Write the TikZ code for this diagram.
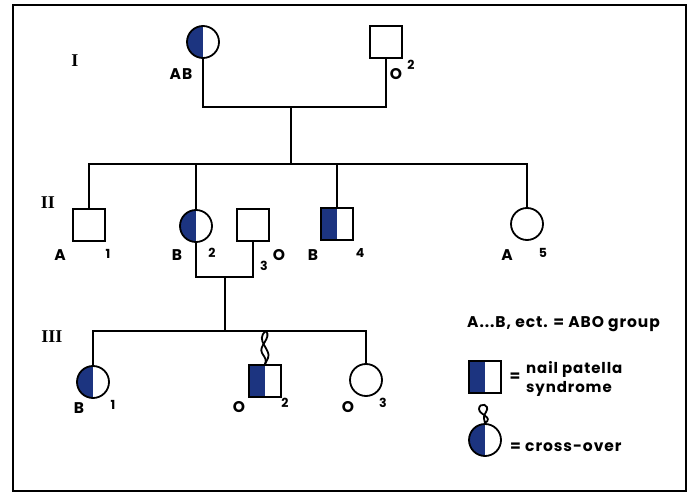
\documentclass[tikz,border=0pt]{standalone}
\usepackage{fontspec}
\setsansfont{Poppins}[LetterSpace=6]
\newfontfamily\numfont{Liberation Serif}
\usetikzlibrary{positioning}
\definecolor{npblue}{RGB}{28,52,128}
\tikzstyle{female}=[circle,draw=black,line width=1.8pt,minimum size=32pt,inner sep=0pt]
\tikzstyle{male}=[rectangle,draw=black,line width=1.8pt,minimum size=32pt,inner sep=0pt]
\tikzstyle{halffill}=[path picture={\fill[npblue] (path picture bounding box.south west) rectangle (path picture bounding box.north);}]
\tikzstyle{gtext}=[font=\sffamily\bfseries\fontsize{15.5}{15.5}\selectfont,inner sep=0pt]
\tikzstyle{ntext}=[font=\sffamily\bfseries\fontsize{12.5}{12.5}\selectfont,inner sep=0pt]
\tikzstyle{gen}=[font=\numfont\bfseries\fontsize{18}{18}\selectfont,inner sep=0pt]
\tikzstyle{line}=[line width=1.8pt]

\begin{document}
\begin{tikzpicture}[x=1pt,y=-1pt]
	\useasboundingbox (0,0) rectangle (695,494);
	\draw[line width=2.6pt] (13,5) rectangle (686,491);

	% generation I
	\node [gen] (g1) at (75,61) {I};
	\node [female,halffill] (i1) at (203,42) {};
	\node [male] (i2) at (386,42) {};
	\node [gtext] (i1g) at (181,74) {AB};
	\node [gtext] (i2g) at (396,74) {O};
	\node [ntext] (i2n) at (411,65) {2};
	\coordinate (m1) at (291,107);
	\draw[line] (i1.south) |- (m1) -| (i2.south);
	\coordinate (s2) at (291,164);
	\draw[line] (m1) -- (s2);

	% generation II
	\node [gen] (g2) at (48,203) {II};
	\node [male] (ii1) at (89,225) {};
	\node [female,halffill] (ii2) at (196,226) {};
	\node [male] (ii3) at (253,225) {};
	\node [male,halffill] (ii4) at (337,224) {};
	\node [female] (ii5) at (527,224) {};
	\draw[line] (ii1.north) |- (s2) -| (ii5.north);
	\draw[line] (ii2.north) -- (ii2.north |- s2);
	\draw[line] (ii4.north) -- (ii4.north |- s2);
	\node [gtext] (ii1g) at (60,255) {A};
	\node [ntext] (ii1n) at (108,254) {1};
	\node [gtext] (ii2g) at (177,255) {B};
	\node [ntext] (ii2n) at (212,253) {2};
	\node [ntext] (ii3n) at (264,266) {3};
	\node [gtext] (ii3g) at (279,255) {O};
	\node [gtext] (ii4g) at (313,255) {B};
	\node [ntext] (ii4n) at (360,253) {4};
	\node [gtext] (ii5g) at (507,255) {A};
	\node [ntext] (ii5n) at (543,253) {5};
	\coordinate (m2) at (225,277);
	\draw[line] (ii2.south) |- (m2) -| (ii3.south);
	\coordinate (s3) at (225,331);
	\draw[line] (m2) -- (s3);

	% generation III
	\node [gen] (g3) at (52,337) {III};
	\node [female,halffill] (iii1) at (93,382) {};
	\node [male,halffill] (iii2) at (265,381) {};
	\node [female] (iii3) at (366,380) {};
	\draw[line] (iii1.north) |- (s3) -| (iii3.north);
	\coordinate (x1) at (266,331);
	\draw[line] (x1) .. controls (254,340) and (272,350) .. (268,358) -- (iii2.north);
	\draw[line] (x1) .. controls (272,338) and (258,346) .. (262,353) .. controls (265,358) and (267,360) .. (iii2.north);
	\node [gtext] (iii1g) at (79,408) {B};
	\node [ntext] (iii1n) at (113,405) {1};
	\node [gtext] (iii2g) at (239,407) {O};
	\node [ntext] (iii2n) at (285,403) {2};
	\node [gtext] (iii3g) at (348,407) {O};
	\node [ntext] (iii3n) at (383,403) {3};

	% key
	\node [gtext,anchor=west] (k1) at (467,324) {A...B, ect. = ABO group};
	\node [male,halffill] (k2) at (485,377) {};
	\node [gtext] (k2e) at (515,377) {=};
	\node [gtext,anchor=west,align=left,font=\sffamily\bfseries\fontsize{15}{19}\selectfont] (k2t) at (526,379) {nail patella\\syndrome};
	\node [female,halffill] (k3) at (485,440) {};
	\draw[line] (k3.north) .. controls (494,417) and (479,415) .. (479,409) .. controls (479,402) and (491,404) .. (486,412) .. controls (482,418) and (485,420) .. (k3.north);
	\node [gtext,anchor=west] (k3t) at (510,447) {= cross-over};
\end{tikzpicture}
\end{document}
